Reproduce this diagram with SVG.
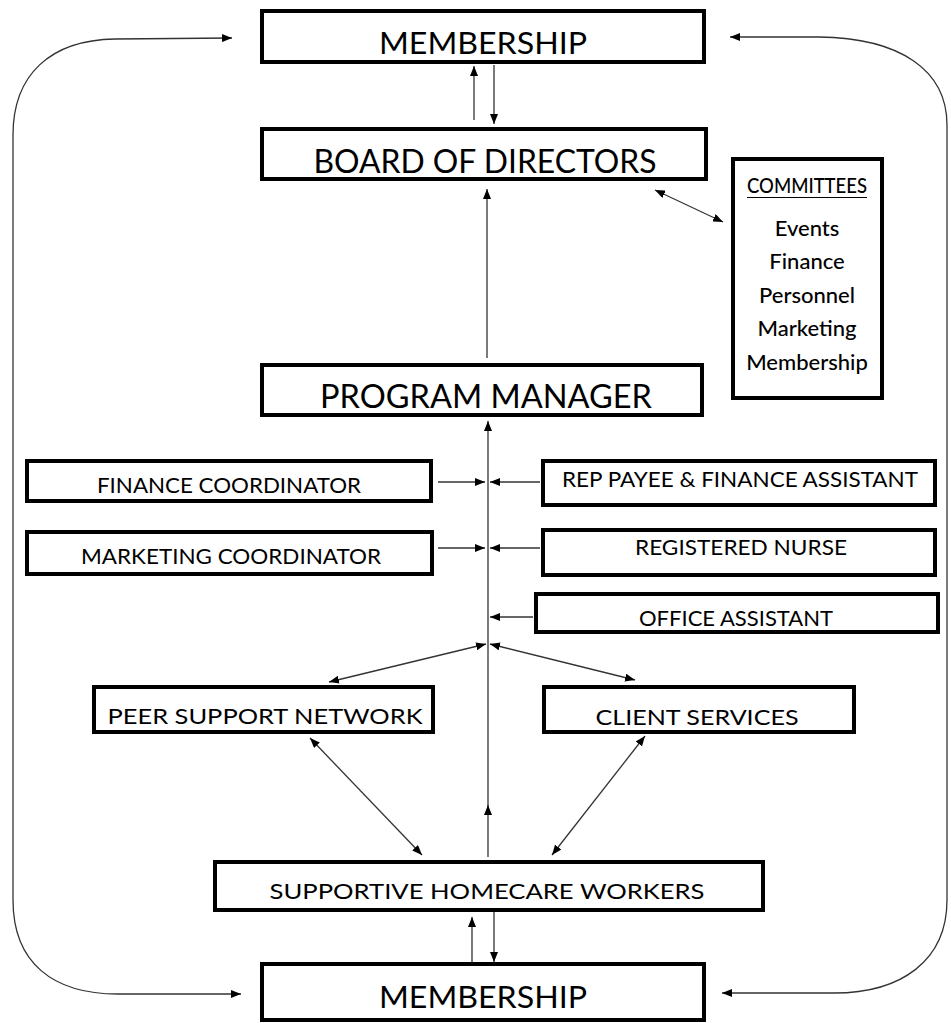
<svg xmlns="http://www.w3.org/2000/svg" width="951" height="1023" viewBox="0 0 951 1023">
<style>
.box{fill:#fff;stroke:#000;stroke-width:4}
.t{font-family:Lato,"Open Sans","Liberation Sans",sans-serif;fill:#000;text-anchor:middle}
.big{font-size:31px}
.mid{font-size:21px}
.com{font-size:22px;font-weight:500}
.c{fill:none;stroke:#333;stroke-width:1.3}
</style>
<defs>
<marker id="ah" viewBox="0 0 10 10" refX="10" refY="5" markerWidth="10" markerHeight="8" markerUnits="userSpaceOnUse" orient="auto-start-reverse" preserveAspectRatio="none">
<path d="M0,0 L10,5 L0,10 z" fill="#000"/>
</marker>
</defs>
<g id="connectors">
<line class="c" x1="474" y1="120" x2="474" y2="66" marker-end="url(#ah)"/>
<line class="c" x1="494" y1="65" x2="494" y2="124" marker-end="url(#ah)"/>
<line class="c" x1="655" y1="190" x2="723" y2="222" marker-start="url(#ah)" marker-end="url(#ah)"/>
<line class="c" x1="487" y1="358" x2="487" y2="189" marker-end="url(#ah)"/>
<line class="c" x1="488" y1="857" x2="488" y2="805" marker-end="url(#ah)"/>
<line class="c" x1="488" y1="806" x2="488" y2="421" marker-end="url(#ah)"/>
<line class="c" x1="438" y1="482" x2="485" y2="482" marker-end="url(#ah)"/>
<line class="c" x1="540" y1="482" x2="490" y2="482" marker-end="url(#ah)"/>
<line class="c" x1="438" y1="548" x2="485" y2="548" marker-end="url(#ah)"/>
<line class="c" x1="540" y1="548" x2="490" y2="548" marker-end="url(#ah)"/>
<line class="c" x1="533" y1="617" x2="490" y2="617" marker-end="url(#ah)"/>
<line class="c" x1="486" y1="644" x2="329" y2="682" marker-start="url(#ah)" marker-end="url(#ah)"/>
<line class="c" x1="490" y1="644" x2="635" y2="680" marker-start="url(#ah)" marker-end="url(#ah)"/>
<line class="c" x1="310" y1="738" x2="422" y2="855" marker-start="url(#ah)" marker-end="url(#ah)"/>
<line class="c" x1="645" y1="736" x2="552" y2="855" marker-start="url(#ah)" marker-end="url(#ah)"/>
<line class="c" x1="472" y1="962" x2="472" y2="917" marker-end="url(#ah)"/>
<line class="c" x1="494" y1="912" x2="494" y2="962" marker-end="url(#ah)"/>
<path class="c" d="M232,38 L115,39 C50,40 13,75 13,135 L13,900 C13,962 52,995 121,994 L241,994" marker-start="url(#ah)" marker-end="url(#ah)"/>
<path class="c" d="M730,37 L819,37 C900,38 947,70 947,125 L947,900 C947,960 902,994 831,993 L722,993" marker-start="url(#ah)" marker-end="url(#ah)"/>
</g>
<g id="membership-top">
<rect class="box" x="262" y="11" width="442" height="51"/>
<text class="t big" x="483" y="54" textLength="208" lengthAdjust="spacingAndGlyphs">MEMBERSHIP</text>
</g>
<g id="board">
<rect class="box" x="262" y="129" width="444" height="50"/>
<text class="t" style="font-size:32px" x="485" y="173" textLength="343" lengthAdjust="spacingAndGlyphs">BOARD OF DIRECTORS</text>
</g>
<g id="committees">
<rect class="box" x="733" y="159" width="149" height="239"/>
<text class="t com" x="807" y="193" textLength="120" lengthAdjust="spacingAndGlyphs">COMMITTEES</text>
<line x1="747" y1="197.5" x2="867" y2="197.5" stroke="#000" stroke-width="1.2"/>
<text class="t com" x="807" y="236">Events</text>
<text class="t com" x="807" y="269">Finance</text>
<text class="t com" x="807" y="303">Personnel</text>
<text class="t com" x="807" y="336">Marketing</text>
<text class="t com" x="807" y="370">Membership</text>
</g>
<g id="program-manager">
<rect class="box" x="262" y="365" width="440" height="50"/>
<text class="t" style="font-size:32px" x="486" y="408" textLength="332" lengthAdjust="spacingAndGlyphs">PROGRAM MANAGER</text>
</g>
<g id="finance-coordinator">
<rect class="box" x="27" y="461" width="404" height="40"/>
<text class="t mid" x="229" y="493" textLength="264" lengthAdjust="spacingAndGlyphs">FINANCE COORDINATOR</text>
</g>
<g id="rep-payee">
<rect class="box" x="543" y="461" width="392" height="44"/>
<text class="t mid" x="740" y="487" textLength="356" lengthAdjust="spacingAndGlyphs">REP PAYEE &amp; FINANCE ASSISTANT</text>
</g>
<g id="marketing-coordinator">
<rect class="box" x="27" y="532" width="405" height="42"/>
<text class="t mid" x="231" y="564" textLength="300" lengthAdjust="spacingAndGlyphs">MARKETING COORDINATOR</text>
</g>
<g id="registered-nurse">
<rect class="box" x="543" y="530" width="392" height="45"/>
<text class="t mid" x="741" y="555" textLength="212" lengthAdjust="spacingAndGlyphs">REGISTERED NURSE</text>
</g>
<g id="office-assistant">
<rect class="box" x="536" y="594" width="402" height="38"/>
<text class="t mid" x="736" y="626" textLength="194" lengthAdjust="spacingAndGlyphs">OFFICE ASSISTANT</text>
</g>
<g id="peer-support">
<rect class="box" x="94" y="687" width="339" height="45"/>
<text class="t mid" x="265" y="724" textLength="315" lengthAdjust="spacingAndGlyphs">PEER SUPPORT NETWORK</text>
</g>
<g id="client-services">
<rect class="box" x="544" y="687" width="310" height="45"/>
<text class="t mid" x="697" y="725" textLength="203" lengthAdjust="spacingAndGlyphs">CLIENT SERVICES</text>
</g>
<g id="homecare-workers">
<rect class="box" x="215" y="862" width="548" height="48"/>
<text class="t mid" x="487" y="899" textLength="435" lengthAdjust="spacingAndGlyphs">SUPPORTIVE HOMECARE WORKERS</text>
</g>
<g id="membership-bottom">
<rect class="box" x="262" y="964" width="442" height="56"/>
<text class="t big" x="483" y="1008" textLength="208" lengthAdjust="spacingAndGlyphs">MEMBERSHIP</text>
</g>
</svg>
